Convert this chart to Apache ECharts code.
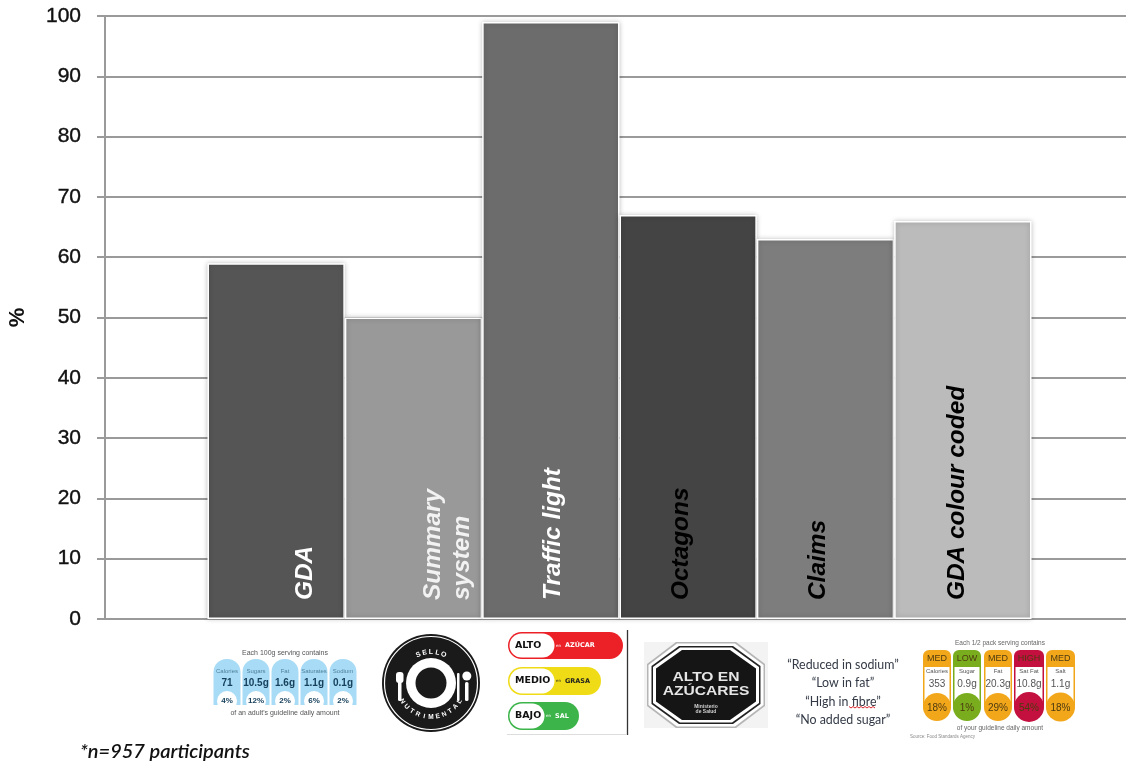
<!DOCTYPE html>
<html>
<head>
<meta charset="utf-8">
<style>html,body{margin:0;padding:0;background:#fff}#chart{width:1126px;height:765px}</style>
<script src="https://cdn.jsdelivr.net/npm/echarts@6/dist/echarts.min.js"></script>
</head>
<body>
<div id="chart"></div>
<script>
// Share of participants per front-of-pack label format
const categories = ['GDA', 'Summary\nsystem', 'Traffic light', 'Octagons', 'Claims', 'GDA colour coded'];
const percentages = [59, 50, 99, 67, 63, 66];
const yTicks = [0, 10, 20, 30, 40, 50, 60, 70, 80, 90, 100];
const footnote = '*n=957 participants';

// Wording printed on the label examples under the bars
const gdaNames = ['Calories', 'Sugars', 'Fat', 'Saturates', 'Sodium'];
const gdaAmounts = ['71', '10.5g', '1.6g', '1.1g', '0.1g'];
const gdaShares = ['4%', '12%', '2%', '6%', '2%'];
const trafficLevels = ['ALTO', 'MEDIO', 'BAJO'];
const trafficNutrients = ['AZÚCAR', 'GRASA', 'SAL'];
const claimLines = ['“Reduced in sodium”', '“Low in fat”', '“High in fibre”', '“No added sugar”'];
const mtlLevels = ['MED', 'LOW', 'MED', 'HIGH', 'MED'];
const mtlNames = ['Calories', 'Sugar', 'Fat', 'Sat Fat', 'Salt'];
const mtlAmounts = ['353', '0.9g', '20.3g', '10.8g', '1.1g'];
const mtlShares = ['18%', '1%', '29%', '54%', '18%'];

// Bar appearance, in category order
const barColors = ['#555555', '#999999', '#6c6c6c', '#444444', '#7d7d7d', '#bbbbbb'];
const labelColors = ['#ffffff', '#f2f2f2', '#ffffff', '#000000', '#000000', '#000000'];
const labelShift = [29, 34, 2, -7, -7, -6];

const SANS = '"Liberation Sans", Arial, sans-serif';
const g = [];

function text(x, y, s, size, fill, opts) {
  opts = opts || {};
  g.push({
    type: 'text', x: x, y: y, rotation: opts.rotation || 0, scaleX: opts.scaleX || 1, z: 10,
    style: {
      text: s, x: 0, y: 0, fill: fill, align: opts.align || 'center', verticalAlign: 'middle',
      font: (opts.style || '') + ' ' + (opts.weight || 'normal') + ' ' + size + 'px ' + (opts.family || SANS)
    }
  });
}
function rrect(x, y, w, h, r, fill, stroke, lw) {
  g.push({ type: 'rect', z: 5, shape: { x: x, y: y, width: w, height: h, r: r },
    style: { fill: fill, stroke: stroke || null, lineWidth: lw || 0 } });
}
function circle(cx, cy, r, fill, stroke, lw) {
  g.push({ type: 'circle', z: 5, shape: { cx: cx, cy: cy, r: r },
    style: { fill: fill, stroke: stroke || null, lineWidth: lw || 0 } });
}
function line(x1, y1, x2, y2, color, lw) {
  g.push({ type: 'line', z: 5, shape: { x1: x1, y1: y1, x2: x2, y2: y2 },
    style: { stroke: color, lineWidth: lw } });
}
function octagon(cx, cy, hw, hh, cx0, cy0, fill) {
  g.push({ type: 'polygon', z: 5, shape: { points: [
    [cx - hw + cx0, cy - hh], [cx + hw - cx0, cy - hh], [cx + hw, cy - hh + cy0], [cx + hw, cy + hh - cy0],
    [cx + hw - cx0, cy + hh], [cx - hw + cx0, cy + hh], [cx - hw, cy + hh - cy0], [cx - hw, cy - hh + cy0]
  ] }, style: { fill: fill } });
}

// Guideline daily amount example
function drawGda() {
  text(285, 653, 'Each 100g serving contains', 7, '#555');
  gdaNames.forEach(function (name, i) {
    const x = 213 + i * 29;
    rrect(x + 0.5, 659, 27, 46, [13, 13, 0, 0], '#a8dcf6');
    circle(x + 14, 701, 10, '#ffffff');
    text(x + 14, 671, name, 6, '#4d7f99');
    text(x + 14, 683, gdaAmounts[i], 10, '#17405c', { weight: 'bold' });
    text(x + 14, 701, gdaShares[i], 8, '#17405c', { weight: 'bold' });
  });
  text(285, 713, "of an adult's guideline daily amount", 7, '#555');
}

// Round "Sello nutrimental" seal with plate and cutlery
function drawSeal() {
  const cx = 431, cy = 683;
  circle(cx, cy, 49, '#1a1a1a');
  circle(cx, cy, 46.5, 'none', '#ffffff', 1.2);
  circle(cx, cy, 25, '#ffffff');
  circle(cx, cy, 15.5, '#1a1a1a');
  rrect(398, 675, 3.5, 26, 1.5, '#ffffff');
  rrect(396, 672, 7.5, 11, 3, '#ffffff');
  rrect(457, 673, 2.5, 28, 1, '#ffffff');
  rrect(465, 682, 3.5, 19, 1.5, '#ffffff');
  circle(466.8, 676, 4.5, '#ffffff');
  'SELLO'.split('').forEach(function (ch, i) {
    const a = (i - 2) * 0.21;
    text(cx + 31 * Math.sin(a), cy - 31 * Math.cos(a), ch, 7, '#ffffff', { weight: 'bold', rotation: -a });
  });
  const word = 'NUTRIMENTAL'.split('');
  word.forEach(function (ch, i) {
    const a = (i - (word.length - 1) / 2) * 0.2;
    text(cx + 34 * Math.sin(a), cy + 34 * Math.cos(a), ch, 6.5, '#ffffff', { weight: 'bold', rotation: a });
  });
}

// Spanish traffic-light pills
function drawTrafficPills() {
  const pills = [
    { y: 632, h: 27, w: 115, inner: 45, nx: 565, c: '#ec2027', t: '#ffffff' },
    { y: 667, h: 28, w: 93, inner: 45, nx: 565, c: '#efdc16', t: '#222222' },
    { y: 702, h: 28, w: 71, inner: 35, nx: 555, c: '#3cb44a', t: '#ffffff' }
  ];
  const mono = '"DejaVu Sans", sans-serif';
  pills.forEach(function (p, i) {
    const mid = p.y + p.h / 2;
    rrect(508, p.y, p.w, p.h, p.h / 2, p.c);
    rrect(509.5, p.y + 1.5, p.inner, p.h - 3, (p.h - 3) / 2, '#ffffff');
    text(515, mid, trafficLevels[i], 9.5, '#111', { weight: 'bold', align: 'left', family: mono });
    text(p.nx - 9, mid, 'en', 4, p.t, { align: 'left', family: mono });
    text(p.nx, mid, trafficNutrients[i], 6.5, p.t, { weight: 'bold', align: 'left', family: mono });
  });
  line(627.5, 630, 627.5, 735, '#333333', 1.3);
  line(507, 734.5, 627, 734.5, '#dddddd', 1);
}

// Black warning octagon
function drawOctagon() {
  rrect(644, 642, 124, 86, 0, '#f3f3f3');
  const cx = 706, cy = 685;
  octagon(cx, cy, 59, 43, 29, 22, '#b5b5b5');
  octagon(cx, cy, 57.5, 41.5, 28.5, 21.5, '#ffffff');
  octagon(cx, cy, 54.5, 39, 27.5, 20, '#222222');
  octagon(cx, cy, 53, 37.5, 27, 19.5, '#ffffff');
  octagon(cx, cy, 50, 35, 26, 18.5, '#151515');
  text(cx, 677, 'ALTO EN', 13, '#e6e6e6', { weight: 'bold', scaleX: 1.2 });
  text(cx, 691, 'AZÚCARES', 13, '#e6e6e6', { weight: 'bold', scaleX: 1.2 });
  text(cx, 707, 'Ministerio', 5, '#d0d0d0', { weight: 'bold' });
  text(cx, 712, 'de Salud', 5, '#d0d0d0', { weight: 'bold' });
}

// Typed nutrition claims, with the spell-check squiggle under "fibre"
function drawClaims() {
  const ys = [665, 683, 702, 720];
  claimLines.forEach(function (s, i) {
    text(843, ys[i], s, 12.4, '#333a46', { family: 'Lato, "Open Sans", sans-serif' });
  });
  g.push({ type: 'polyline', z: 11, shape: { points: [[849, 706.5], [851, 708], [853, 706.5], [855, 708], [857, 706.5], [859, 708], [861, 706.5], [863, 708], [865, 706.5], [867, 708], [869, 706.5], [871, 708], [873, 706.5], [875, 708]] },
    style: { stroke: '#d9262c', lineWidth: 1, fill: null } });
}

// Colour-coded GDA panel
function drawColourGda() {
  const palette = { MED: '#f2a71b', LOW: '#79ad1d', HIGH: '#c4103f' };
  const xs = [923, 953, 984, 1014, 1046];
  const ws = [28, 28, 28, 30, 29];
  text(1000, 643, 'Each 1/2 pack serving contains', 6.5, '#666');
  mtlLevels.forEach(function (lvl, i) {
    const c = palette[lvl], x = xs[i], w = ws[i], mid = x + w / 2;
    rrect(x, 650, w, 69, [6, 6, 14, 14], c);
    rrect(x + 1.5, 667, w - 3, 36, 0, '#ffffff');
    circle(mid, 707, w / 2, c);
    text(mid, 659, lvl, 9, '#4d3a10');
    text(mid, 671, mtlNames[i], 6, '#555');
    text(mid, 684, mtlAmounts[i], 10, '#555');
    text(mid, 708, mtlShares[i], 10, '#4d3a10');
  });
  text(1000, 728, 'of your guideline daily amount', 6.5, '#666');
  text(910, 737, 'Source: Food Standards Agency', 4.5, '#888', { align: 'left' });
}

drawGda();
drawSeal();
drawTrafficPills();
drawOctagon();
drawClaims();
drawColourGda();
text(80, 752, footnote, 20, '#111', { align: 'left', style: 'italic', weight: '600', family: 'Lato, "Open Sans", sans-serif' });

const option = {
  animation: false,
  backgroundColor: '#ffffff',
  // The first grid carries the axes and reaches the page edge; the second holds the bars.
  grid: [
    { left: 105, right: 0, top: 16, height: 603, outerBoundsMode: 'none' },
    { left: 207.5, width: 824, top: 16, height: 603, outerBoundsMode: 'none' }
  ],
  xAxis: [
    { type: 'category', gridIndex: 0, data: [''], axisLabel: { show: false }, axisTick: { show: false },
      axisLine: { lineStyle: { color: '#9a9a9a', width: 2 } } },
    { type: 'category', gridIndex: 1, data: categories, show: false }
  ],
  yAxis: [
    { type: 'value', gridIndex: 0, min: 0, max: 100, interval: 10,
      name: '%', nameLocation: 'middle', nameGap: 76, nameRotate: 90,
      nameTextStyle: { fontFamily: SANS, fontSize: 22, fontWeight: 'bold', color: '#111' },
      axisLabel: { fontFamily: SANS, fontSize: 21, color: '#111', margin: 24,
        textBorderColor: '#111', textBorderWidth: 0.4,
        formatter: function (v) { return yTicks.indexOf(v) >= 0 ? String(v) : ''; } },
      axisLine: { show: true, lineStyle: { color: '#9a9a9a', width: 2 } },
      axisTick: { show: true, length: 8, lineStyle: { color: '#9a9a9a', width: 2 } },
      splitLine: { show: true, lineStyle: { color: '#9a9a9a', width: 2 } } },
    { type: 'value', gridIndex: 1, min: 0, max: 100, show: false }
  ],
  series: [{
    type: 'bar', xAxisIndex: 1, yAxisIndex: 1, barCategoryGap: 0,
    data: percentages.map(function (v, i) {
      return {
        value: v,
        itemStyle: { color: barColors[i], borderColor: '#ffffff', borderWidth: 1.5,
          shadowColor: 'rgba(0,0,0,0.25)', shadowBlur: 5 },
        label: { show: true, position: 'insideBottom', distance: 19, rotate: 90, align: 'left', verticalAlign: 'middle',
          offset: [0, labelShift[i]], color: labelColors[i], fontFamily: SANS,
          fontSize: 24.4, fontWeight: 'bold', fontStyle: 'italic', lineHeight: 29,
          formatter: categories[i] }
      };
    })
  }],
  graphic: { elements: g }
};

echarts.init(document.getElementById('chart'), null, { renderer: 'canvas' }).setOption(option);
</script>
</body>
</html>
